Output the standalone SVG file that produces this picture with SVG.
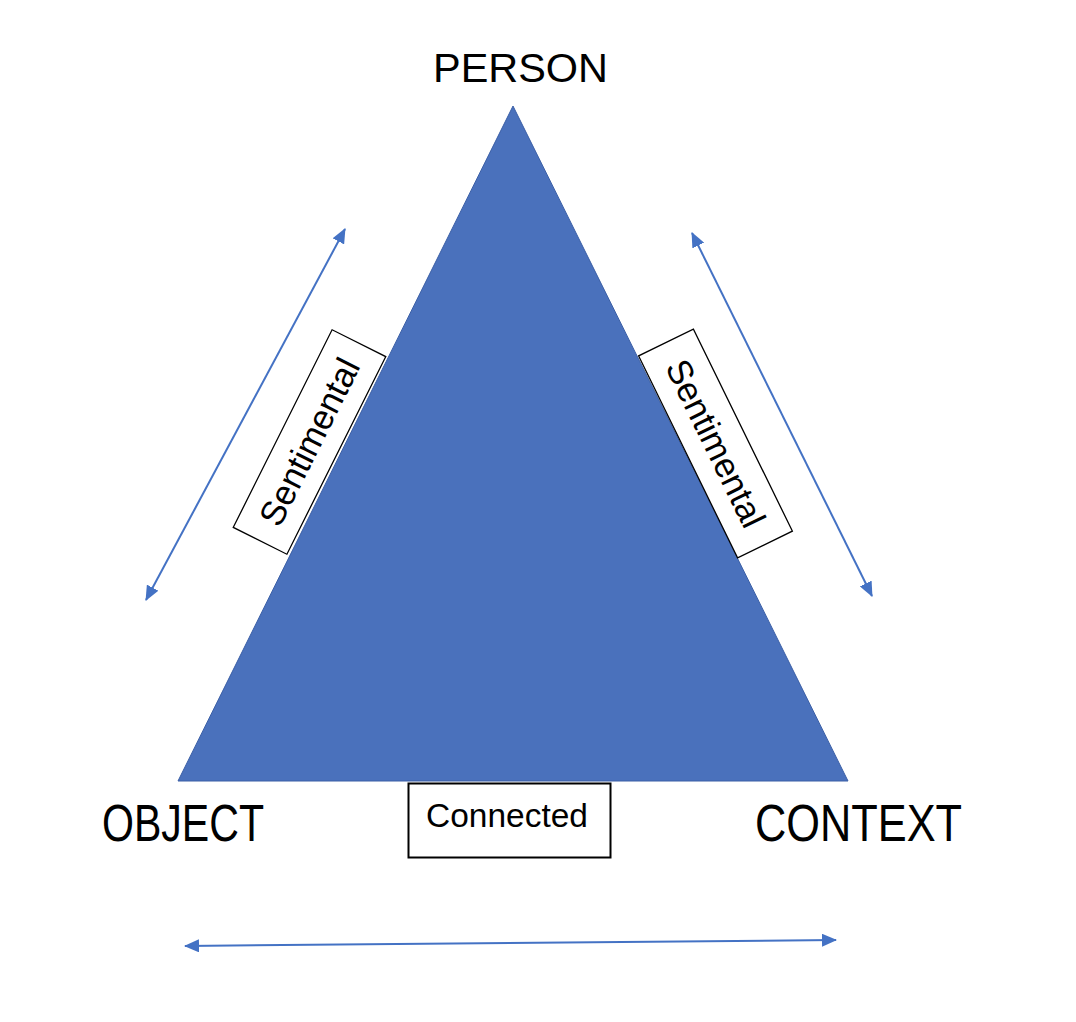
<svg xmlns="http://www.w3.org/2000/svg" width="1076" height="1022" viewBox="0 0 1076 1022">
<style>
.lbl{font-family:"Liberation Sans",Arial,sans-serif;fill:#000}
.box{fill:#fff;stroke:#000}
.conn{stroke:#4472C4;stroke-width:2;fill:none}
</style>
<defs>
<marker id="ah" viewBox="0 0 15 13" refX="14" refY="6.5" markerWidth="15" markerHeight="13" markerUnits="userSpaceOnUse" orient="auto-start-reverse">
<path d="M0,0 L15,6.5 L0,13 Z" fill="#4472C4"/>
</marker>
</defs>
<rect width="1076" height="1022" fill="#fff"/>
<g id="triangle">
<polygon points="513,106 848,781 178,781" fill="#4A71BC" stroke="#3B5FA6" stroke-width="1"/>
</g>
<g id="person"><text class="lbl" x="433" y="82" font-size="41" textLength="175" lengthAdjust="spacingAndGlyphs">PERSON</text></g>
<g id="object"><text class="lbl" x="102" y="841" font-size="52" textLength="162" lengthAdjust="spacingAndGlyphs">OBJECT</text></g>
<g id="context"><text class="lbl" x="755" y="841" font-size="52" textLength="207" lengthAdjust="spacingAndGlyphs">CONTEXT</text></g>
<g id="sentimental-left" transform="translate(309.5,442) rotate(-63.43)">
<rect class="box" x="-110.5" y="-30" width="221" height="60" stroke-width="1.3"/>
<text class="lbl" x="0" y="12" font-size="35" text-anchor="middle" textLength="182" lengthAdjust="spacingAndGlyphs">Sentimental</text>
</g>
<g id="sentimental-right" transform="translate(715.5,443.5) rotate(63.9)">
<rect class="box" x="-112.5" y="-30.5" width="225" height="61" stroke-width="1.3"/>
<text class="lbl" x="0" y="12" font-size="35" text-anchor="middle" textLength="182" lengthAdjust="spacingAndGlyphs">Sentimental</text>
</g>
<g id="connected">
<rect class="box" x="408.5" y="783.5" width="202" height="74" stroke-width="2"/>
<text class="lbl" x="426" y="827" font-size="33" textLength="162" lengthAdjust="spacingAndGlyphs">Connected</text>
</g>
<g id="connectors">
<line class="conn" x1="146" y1="600" x2="345" y2="229" marker-start="url(#ah)" marker-end="url(#ah)"/>
<line class="conn" x1="692" y1="233" x2="872" y2="596" marker-start="url(#ah)" marker-end="url(#ah)"/>
<line class="conn" x1="185" y1="946" x2="836" y2="940" marker-start="url(#ah)" marker-end="url(#ah)"/>
</g>
</svg>
